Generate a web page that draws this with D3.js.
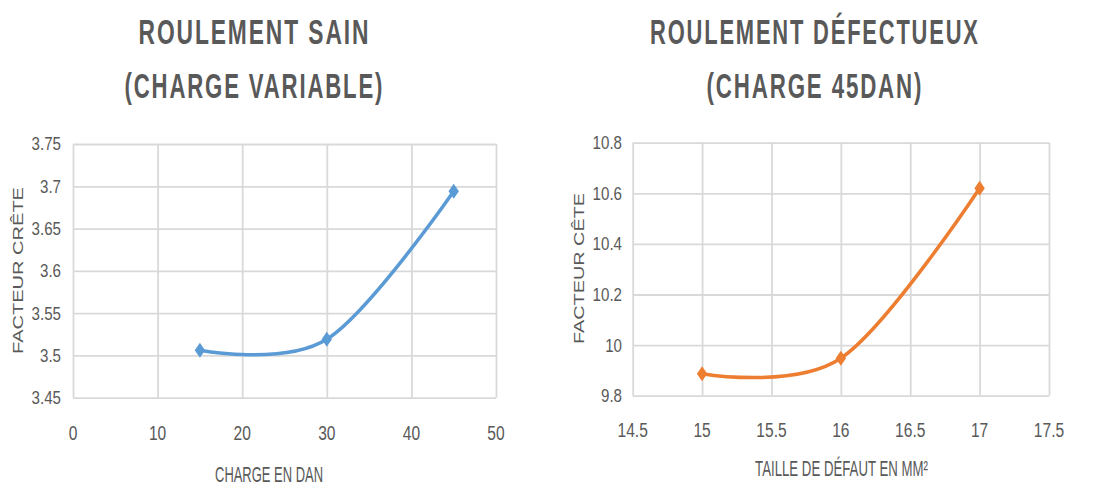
<!DOCTYPE html>
<html><head><meta charset="utf-8">
<script src="https://cdn.jsdelivr.net/npm/d3@7"></script>
<style>html,body{margin:0;padding:0;background:#fff;}svg{display:block;}</style>
</head><body>
<svg id="c" width="1103" height="489"></svg>
<script>
// ---- data ----
const chargeDaN = [15, 30, 45];
const facteurCreteSain = [3.506, 3.519, 3.694];
const tailleDefaut = [15, 16, 17];
const facteurCreteDefaut = [9.887, 9.948, 10.62];

const leftXTicks = [0, 10, 20, 30, 40, 50];
const leftYTicks = [3.45, 3.5, 3.55, 3.6, 3.65, 3.7, 3.75];
const rightXTicks = [14.5, 15, 15.5, 16, 16.5, 17, 17.5];
const rightYTicks = [9.8, 10, 10.2, 10.4, 10.6, 10.8];

const leftTitle = ["ROULEMENT SAIN", "(CHARGE VARIABLE)"];
const rightTitle = ["ROULEMENT DÉFECTUEUX", "(CHARGE 45DAN)"];
const leftXLabel = "CHARGE EN DAN", leftYLabel = "FACTEUR CRÊTE";
const rightXLabel = "TAILLE DE DÉFAUT EN MM²", rightYLabel = "FACTEUR CÊTE";

// ---- drawing ----
const svg = d3.select("#c");
const TXT = "#595959", GRID = "#D9D9D9";
const FONT = "'Liberation Sans', Arial, sans-serif";

function sqText(g, str, x, y, opt) {
  const t = g.append("text").text(str)
    .attr("font-family", FONT).attr("font-size", opt.size)
    .attr("font-weight", opt.weight || "normal").attr("fill", TXT)
    .attr("text-anchor", opt.anchor || "middle");
  if (opt.ls) t.attr("letter-spacing", opt.ls);
  if (opt.dy) t.attr("dy", opt.dy);
  const w = t.node().getComputedTextLength() - (opt.ls ? opt.ls : 0);
  const sx = opt.width ? opt.width / w : (opt.ratio || 1);
  const dx = opt.ls ? opt.ls / 2 * sx : 0;
  t.attr("transform", `translate(${x + dx},${y}) scale(${sx},1)`);
  return t;
}
function rotText(g, str, cx, cy, opt) {
  const t = g.append("text").text(str)
    .attr("font-family", FONT).attr("font-size", opt.size).attr("fill", TXT)
    .attr("text-anchor", "middle").attr("dy", "0.35em");
  const w = t.node().getComputedTextLength();
  const sl = opt.length / w;
  t.attr("transform", `translate(${cx},${cy}) scale(${opt.sx},1) rotate(-90) scale(${sl},1)`);
}

const diamond = "M0,-7.5L5.2,0L0,7.5L-5.2,0Z";

function chart(cfg) {
  const g = svg.append("g");
  const x = d3.scaleLinear().domain(cfg.xDomain).range(cfg.xRange);
  const y = d3.scaleLinear().domain(cfg.yDomain).range(cfg.yRange);
  const [y0, y1] = cfg.yRange, [x0, x1] = cfg.xRange;

  const gx = g.append("g").attr("transform", `translate(0,${y0})`)
    .call(d3.axisBottom(x).tickValues(cfg.xTicks).tickSize(-(y0 - y1)).tickFormat(""));
  const gy = g.append("g").attr("transform", `translate(${x0},0)`)
    .call(d3.axisLeft(y).tickValues(cfg.yTicks).tickSize(-(x1 - x0)).tickFormat(""));
  [gx, gy].forEach(a => {
    a.select(".domain").remove();
    a.selectAll("line").attr("stroke", GRID).attr("stroke-width", 1.8);
  });

  cfg.xTicks.forEach(v => sqText(g, cfg.xFmt(v), x(v), cfg.xLabelY, {size: 20.5, ratio: 0.76}));
  cfg.yTicks.forEach(v => sqText(g, cfg.yFmt(v), cfg.yLabelX, y(v), {size: 18, ratio: 0.84, anchor: "end", dy: "0.36em"}));

  const pts = cfg.xs.map((d, i) => [x(d), y(cfg.ys[i])]);
  g.append("path").datum(pts)
    .attr("d", d3.line().curve(d3.curveCardinal.tension(0)))
    .attr("fill", "none").attr("stroke", cfg.color).attr("stroke-width", 3.5)
    .attr("stroke-linecap", "round");
  g.selectAll(".m").data(pts).join("path")
    .attr("d", diamond).attr("transform", d => `translate(${d[0]},${d[1]})`)
    .attr("fill", cfg.color);

  sqText(g, cfg.title[0], cfg.titleX, 43.5, {size: 36, weight: "bold", width: cfg.titleW[0], ls: 3});
  sqText(g, cfg.title[1], cfg.titleX, 97.5, {size: 36, weight: "bold", width: cfg.titleW[1], ls: 3});
  sqText(g, cfg.xLabel, cfg.xLabelCX, cfg.xLabelBase, {size: 22, width: cfg.xLabelW});
  rotText(g, cfg.yLabel, cfg.yLabelCX, cfg.yLabelCY, {size: 20, sx: 0.74, length: cfg.yLabelL});
}

chart({
  xDomain: [0, 50], xRange: [73, 496], yDomain: [3.45, 3.75], yRange: [397.7, 144],
  xTicks: leftXTicks, yTicks: leftYTicks,
  xFmt: d3.format("d"), yFmt: v => String(+v.toFixed(2)),
  xLabelY: 440, yLabelX: 61,
  xs: chargeDaN, ys: facteurCreteSain, color: "#5B9BD5",
  title: leftTitle, titleX: 253.5, titleW: [230, 258],
  xLabel: leftXLabel, xLabelCX: 269, xLabelBase: 482, xLabelW: 108,
  yLabel: leftYLabel, yLabelCX: 17.5, yLabelCY: 270.5, yLabelL: 167
});
chart({
  xDomain: [14.5, 17.5], xRange: [632.7, 1049], yDomain: [9.8, 10.8], yRange: [395.7, 142.7],
  xTicks: rightXTicks, yTicks: rightYTicks,
  xFmt: v => String(+v.toFixed(1)), yFmt: v => String(+v.toFixed(1)),
  xLabelY: 437, yLabelX: 622,
  xs: tailleDefaut, ys: facteurCreteDefaut, color: "#ED7D31",
  title: rightTitle, titleX: 814, titleW: [328, 215],
  xLabel: rightXLabel, xLabelCX: 841.5, xLabelBase: 476, xLabelW: 173,
  yLabel: rightYLabel, yLabelCX: 578.5, yLabelCY: 268.5, yLabelL: 151
});
</script>
</body></html>
